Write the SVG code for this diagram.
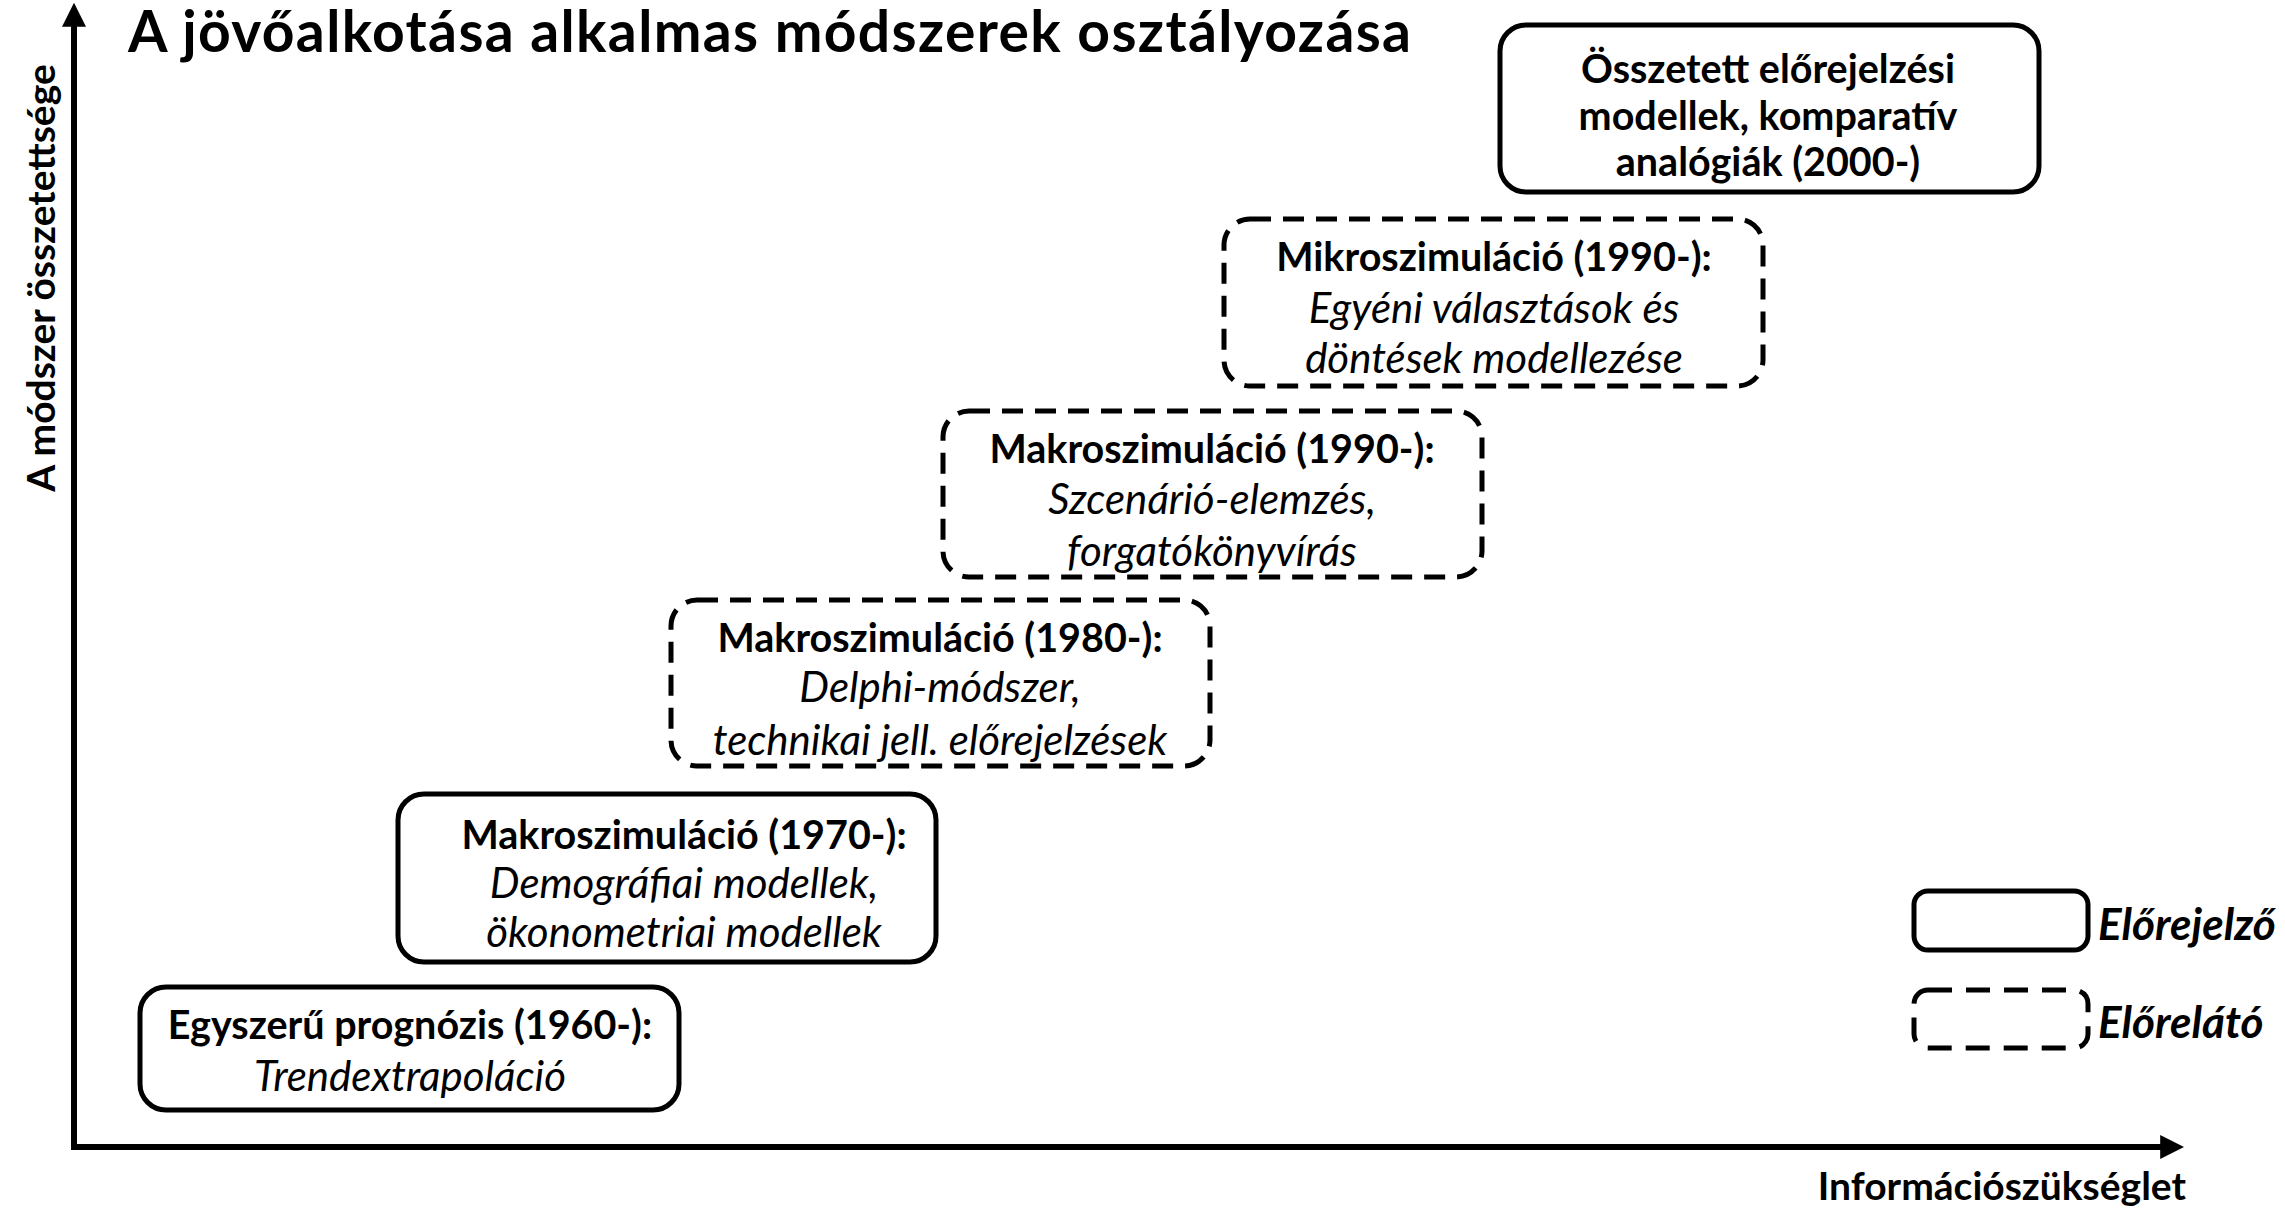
<svg xmlns="http://www.w3.org/2000/svg" width="2285" height="1210" viewBox="0 0 2285 1210">
<style>
  .box { fill: #fff; stroke: #000; stroke-width: 5; }
  .dash { stroke-dasharray: 21 12; }
  .b { font-family: Lato, "Liberation Sans", sans-serif; font-weight: bold; font-size: 39.5px; fill: #000; text-anchor: middle; }
  .i { font-family: Lato, "Liberation Sans", sans-serif; font-style: italic; font-size: 42px; fill: #000; text-anchor: middle; }
  .lg { font-family: Lato, "Liberation Sans", sans-serif; font-weight: bold; font-style: italic; font-size: 44px; fill: #000; }
  .axis { stroke: #000; stroke-width: 6; fill: none; }
</style>
<defs>
  <marker id="arr" viewBox="0 0 10 10" refX="2" refY="5" markerWidth="4" markerHeight="4.5" orient="auto" markerUnits="strokeWidth">
    <path d="M0,0 L10,5 L0,10 Z" fill="#000"/>
  </marker>
</defs>
<rect width="2285" height="1210" fill="#fff"/>
<g id="connectors">
  <line class="axis" x1="74" y1="1150" x2="74" y2="22" marker-end="url(#arr)"/>
  <line class="axis" x1="71" y1="1147" x2="2165" y2="1147" marker-end="url(#arr)"/>
</g>
<text id="title" x="128" y="52" font-family="Lato, 'Liberation Sans', sans-serif" font-weight="bold" font-size="57" fill="#000" textLength="1283" lengthAdjust="spacing">A jövőalkotása alkalmas módszerek osztályozása</text>
<text id="ylabel" transform="translate(55,278) rotate(-90)" font-family="Lato, 'Liberation Sans', sans-serif" font-weight="bold" font-size="39" fill="#000" text-anchor="middle">A módszer összetettsége</text>
<text id="xlabel" x="2186" y="1200" font-family="Lato, 'Liberation Sans', sans-serif" font-weight="bold" font-size="39" fill="#000" text-anchor="end">Információszükséglet</text>
<g id="n_osszetett">
  <rect class="box" x="1500" y="25" width="539" height="167" rx="26"/>
  <text class="b" x="1768" y="83">Összetett előrejelzési</text>
  <text class="b" x="1768" y="130">modellek, komparatív</text>
  <text class="b" x="1768" y="176">analógiák (2000-)</text>
</g>
<g id="n_mikro1990">
  <rect class="box dash" x="1224" y="219" width="539" height="167" rx="26"/>
  <text class="b" x="1494" y="271">Mikroszimuláció (1990-):</text>
  <text class="i" x="1494" y="323">Egyéni választások és</text>
  <text class="i" x="1494" y="373">döntések modellezése</text>
</g>
<g id="n_makro1990">
  <rect class="box dash" x="943" y="411" width="539" height="166" rx="26"/>
  <text class="b" x="1212" y="463">Makroszimuláció (1990-):</text>
  <text class="i" x="1212" y="514">Szcenárió-elemzés,</text>
  <text class="i" x="1212" y="566">forgatókönyvírás</text>
</g>
<g id="n_makro1980">
  <rect class="box dash" x="671" y="600" width="539" height="166" rx="26"/>
  <text class="b" x="940" y="652">Makroszimuláció (1980-):</text>
  <text class="i" x="940" y="702">Delphi-módszer,</text>
  <text class="i" x="940" y="755">technikai jell. előrejelzések</text>
</g>
<g id="n_makro1970">
  <rect class="box" x="398" y="794" width="538" height="168" rx="26"/>
  <text class="b" x="684" y="849">Makroszimuláció (1970-):</text>
  <text class="i" x="684" y="898">Demográfiai modellek,</text>
  <text class="i" x="684" y="947">ökonometriai modellek</text>
</g>
<g id="n_egyszeru">
  <rect class="box" x="140" y="987" width="539" height="123" rx="26"/>
  <text class="b" x="410" y="1039">Egyszerű prognózis (1960-):</text>
  <text class="i" x="410" y="1091">Trendextrapoláció</text>
</g>
<g id="legend">
  <rect class="box" x="1914" y="891" width="174" height="59" rx="14"/>
  <text class="lg" x="2098" y="940">Előrejelző</text>
  <rect class="box" x="1914" y="990" width="174" height="58" rx="14" stroke-dasharray="24 14"/>
  <text class="lg" x="2098" y="1038">Előrelátó</text>
</g>
</svg>
